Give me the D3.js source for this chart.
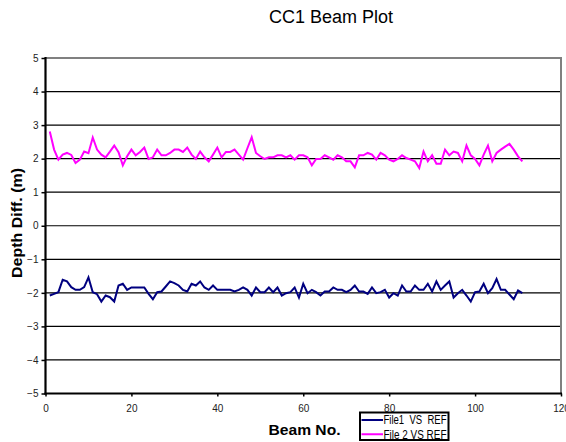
<!DOCTYPE html>
<html>
<head>
<meta charset="utf-8">
<script src="https://cdn.jsdelivr.net/npm/d3@7"></script>
<style>
  html, body { margin: 0; padding: 0; background: #fff; }
  svg { display: block; font-family: "Liberation Sans", Arial, sans-serif; }
</style>
</head>
<body>
<svg id="chart" width="566" height="442"></svg>
<script>
// ---- data ----
const beams = d3.range(1, 112);
const file1VsRef = [
  -2.08, -2.03, -1.98, -1.61, -1.66, -1.83, -1.91, -1.91, -1.83, -1.54,
  -1.98, -2.04, -2.26, -2.08, -2.13, -2.26, -1.78, -1.73, -1.91, -1.84,
  -1.84, -1.84, -1.84, -2.03, -2.19, -1.98, -1.96, -1.81, -1.66, -1.71,
  -1.78, -1.91, -1.96, -1.73, -1.78, -1.66, -1.84, -1.91, -1.78, -1.91,
  -1.91, -1.91, -1.91, -1.96, -1.91, -1.84, -1.91, -2.08, -1.84, -1.98,
  -1.98, -1.84, -1.98, -1.84, -2.08, -2.01, -1.98, -1.84, -2.14, -1.73,
  -2.01, -1.91, -1.98, -2.08, -1.96, -1.96, -1.84, -1.91, -1.91, -1.98,
  -1.91, -1.78, -1.96, -1.96, -2.03, -1.84, -2.01, -1.98, -1.91, -2.14,
  -2.01, -2.08, -1.78, -1.96, -1.96, -1.78, -1.91, -1.91, -1.73, -1.96,
  -1.66, -1.91, -1.78, -1.66, -2.14, -2.01, -1.91, -2.08, -2.26, -1.98,
  -1.96, -1.73, -2.01, -1.86, -1.59, -1.91, -1.91, -2.05, -2.19, -1.93,
  -2.01
];
const file2VsRef = [
  2.81, 2.27, 1.97, 2.12, 2.17, 2.11, 1.87, 1.97, 2.21, 2.16,
  2.63, 2.27, 2.12, 2.04, 2.21, 2.39, 2.19, 1.80, 2.07, 2.27,
  2.10, 2.20, 2.33, 1.99, 2.04, 2.27, 2.10, 2.10, 2.17, 2.27,
  2.27, 2.20, 2.33, 2.12, 1.99, 2.21, 2.04, 1.92, 2.12, 2.33,
  2.04, 2.20, 2.20, 2.27, 2.12, 1.97, 2.31, 2.64, 2.17, 2.07,
  1.99, 2.04, 2.04, 2.10, 2.10, 2.04, 2.10, 1.97, 2.10, 2.10,
  2.04, 1.80, 1.99, 1.99, 2.10, 2.04, 1.97, 2.10, 2.04, 1.92,
  1.92, 1.74, 2.10, 2.10, 2.17, 2.12, 1.97, 2.17, 2.10, 1.97,
  1.92, 1.99, 2.10, 2.02, 1.97, 1.92, 1.72, 2.21, 1.92, 2.10,
  1.85, 1.85, 2.27, 2.10, 2.21, 2.17, 1.92, 2.39, 2.10, 1.99,
  1.80, 2.12, 2.39, 1.92, 2.17, 2.27, 2.36, 2.44, 2.27, 2.07,
  1.92
];
const xTicks = [0, 20, 40, 60, 80, 100, 120];
const yTicks = [-5, -4, -3, -2, -1, 0, 1, 2, 3, 4, 5];
const seriesNames = ["File1  VS  REF", "File 2 VS REF"];
const seriesColors = ["#000080", "#ff00ff"];
const titleText = "CC1 Beam Plot";
const xTitle = "Beam No.";
const yTitle = "Depth Diff. (m)";

// ---- layout ----
const svg = d3.select("#chart");
const L = 45.5, R = 561, T = 58, B = 393.5;
const x = d3.scaleLinear().domain([0, 120]).range([L, R]);
const y = d3.scaleLinear().domain([-5, 5]).range([B, T]);

// gridlines
svg.append("g").selectAll("line")
  .data(yTicks.filter(v => v > -5 && v < 5))
  .join("line")
  .attr("x1", L).attr("x2", R)
  .attr("y1", d => y(d)).attr("y2", d => y(d))
  .attr("stroke", "#000").attr("stroke-width", 1.2);

// frame top/right (gray)
svg.append("path")
  .attr("d", `M${L},${T}H${R}V${B}`)
  .attr("fill", "none").attr("stroke", "#808080").attr("stroke-width", 2);

// axes
const yAxis = d3.axisLeft(y).tickValues(yTicks).tickSize(4).tickPadding(3).tickFormat(d3.format("d"));
const gy = svg.append("g").attr("transform", `translate(${L},0)`).call(yAxis);
gy.select(".domain").remove();
gy.selectAll(".tick line").attr("stroke", "#000").attr("stroke-width", 1.5);
gy.selectAll("text").attr("font-size", 10).attr("fill", "#222")
  .attr("font-family", "Liberation Sans, Arial, sans-serif");

const xAxis = d3.axisBottom(x).tickValues(xTicks).tickSize(3).tickPadding(8).tickFormat(d3.format("d"));
const gx = svg.append("g").attr("transform", `translate(0,${B})`).call(xAxis);
gx.select(".domain").remove();
gx.selectAll(".tick line").attr("stroke", "#000").attr("stroke-width", 1.5);
gx.selectAll("text").attr("font-size", 10).attr("fill", "#222")
  .attr("font-family", "Liberation Sans, Arial, sans-serif");

svg.append("line").attr("x1", L).attr("x2", L).attr("y1", T - 1).attr("y2", B + 1)
  .attr("stroke", "#000").attr("stroke-width", 2.2);
svg.append("line").attr("x1", L - 1).attr("x2", R + 1).attr("y1", B).attr("y2", B)
  .attr("stroke", "#000").attr("stroke-width", 2.2);

// series
const line = d3.line().x(d => x(d[0])).y(d => y(d[1]));
[file1VsRef, file2VsRef].forEach((vals, i) => {
  svg.append("path")
    .datum(beams.map((b, j) => [b, vals[j]]))
    .attr("d", line)
    .attr("fill", "none")
    .attr("stroke", seriesColors[i])
    .attr("stroke-width", 2)
    .attr("stroke-linejoin", "miter");
});

// title
svg.append("text").attr("x", 331).attr("y", 23).attr("text-anchor", "middle")
  .attr("font-size", 18).attr("fill", "#000").text(titleText);

// axis titles
svg.append("text").attr("x", 304.5).attr("y", 435).attr("text-anchor", "middle")
  .attr("font-size", 15).attr("font-weight", "bold")
  .attr("textLength", 72).attr("lengthAdjust", "spacingAndGlyphs").text(xTitle);
svg.append("text").attr("transform", "translate(21.5,223) rotate(-90)")
  .attr("text-anchor", "middle").attr("font-size", 15).attr("font-weight", "bold")
  .attr("textLength", 110).attr("lengthAdjust", "spacingAndGlyphs").text(yTitle);

// legend
const lg = { x: 360, y: 412.5, w: 88.5, h: 27.5 };
const defs = svg.append("defs");
defs.append("clipPath").attr("id", "lgclip").append("rect")
  .attr("x", lg.x).attr("y", lg.y).attr("width", lg.w).attr("height", lg.h);
const legend = svg.append("g");
legend.append("rect").attr("x", lg.x).attr("y", lg.y).attr("width", lg.w).attr("height", lg.h)
  .attr("fill", "#fff");
const items = legend.append("g").attr("clip-path", "url(#lgclip)");
seriesNames.forEach((name, i) => {
  const ly = [420, 434.3][i];
  items.append("line").attr("x1", 361.5).attr("x2", 383).attr("y1", ly).attr("y2", ly)
    .attr("stroke", seriesColors[i]).attr("stroke-width", 2);
  items.append("text").attr("x", 383.5).attr("y", ly + 4.3)
    .attr("font-size", 12).attr("fill", "#000")
    .attr("textLength", 63).attr("lengthAdjust", "spacingAndGlyphs")
    .style("white-space", "pre").text(name);
});
legend.append("rect").attr("x", lg.x).attr("y", lg.y).attr("width", lg.w).attr("height", lg.h)
  .attr("fill", "none").attr("stroke", "#000").attr("stroke-width", 2);
</script>
</body>
</html>
